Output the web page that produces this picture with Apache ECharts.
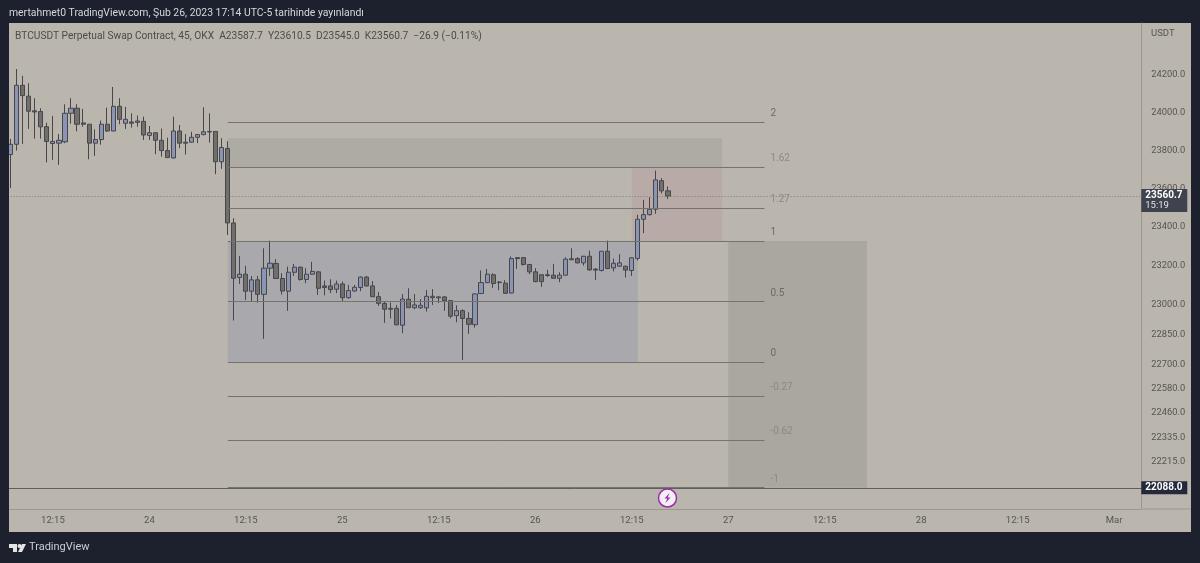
<!DOCTYPE html>
<html>
<head>
<meta charset="utf-8">
<title>BTCUSDT 45</title>
<style>
html, body { margin: 0; padding: 0; background: #1c212d; }
#chart { width: 1200px; height: 563px; }
</style>
<script src="https://cdn.jsdelivr.net/npm/echarts@6/dist/echarts.min.js"></script>
</head>
<body>
<div id="chart"></div>
<script>
// --- data --------------------------------------------------------------
var opens = [23778,23832,24145,24087,24009,24005,23925,23836,23838,23845,
	23996,24023,23945,23938,23838,23857,23938,23902,24033,23943,
	23950,23948,23953,23879,23893,23853,23799,23760,23902,23843,
	23843,23869,23883,23897,23900,23740,23810,23421,23140,23157,
	23070,23128,23054,23188,23212,23135,23070,23167,23193,23130,
	23157,23169,23097,23097,23080,23107,23037,23071,23089,23142,
	23097,23042,23008,22983,22983,22897,23029,22986,22986,22985,
	23037,23036,23041,23022,22946,22971,22931,22900,23058,23114,
	23154,23117,23111,23061,23242,23242,23207,23169,23154,23154,
	23152,23136,23152,23236,23237,23215,23249,23183,23176,23275,
	23189,23198,23198,23176,23238,23440,23464,23492,23641,23587.7];
var closes = [23832,24145,24090,24007,24003,23924,23847,23847,23853,23996,
	24023,23938,23938,23838,23857,23938,23902,24033,23964,23964,
	23943,23955,23881,23893,23853,23799,23762,23902,23838,23838,
	23869,23883,23898,23900,23740,23815,23421,23136,23157,23070,
	23128,23054,23188,23213,23135,23071,23167,23193,23130,23157,
	23171,23085,23089,23078,23107,23037,23073,23090,23142,23097,
	23042,23008,22978,22978,22899,23030,22986,23000,22998,23044,
	23044,23041,23022,22943,22971,22931,22902,23056,23114,23157,
	23109,23114,23059,23237,23237,23207,23169,23119,23119,23150,
	23136,23152,23234,23231,23215,23249,23179,23178,23275,23186,
	23213,23215,23178,23241,23440,23464,23492,23645,23588,23560.7];
var lows = [23602,23799,23834,23913,23862,23862,23737,23750,23724,23838,
	23941,23900,23925,23753,23771,23830,23898,23902,23938,23913,
	23920,23925,23855,23855,23780,23767,23760,23757,23811,23778,
	23841,23838,23879,23841,23675,23703,23359,22921,23107,23025,
	23020,23012,22828,23148,23133,23053,22970,23148,23124,23111,
	23155,23051,23049,23060,23060,23020,23032,23068,23070,23094,
	23040,22995,22909,22931,22897,22857,22986,22978,22980,22966,
	23000,23010,22970,22932,22912,22722,22853,22885,23056,23111,
	23087,23075,23059,23058,23184,23201,23157,23116,23092,23143,
	23135,23116,23150,23231,23213,23201,23174,23128,23171,23183,
	23171,23196,23140,23148,23227,23368,23459,23468,23574,23545];
var highs = [23860,24232,24196,24156,24076,24023,23946,23982,23886,24044,
	24076,24044,24019,23939,23911,23957,24026,24136,24076,24030,
	23996,23984,23978,23929,23895,23915,23867,23978,23934,23886,
	23898,23886,24028,23996,23900,23864,23848,23445,23251,23200,
	23148,23148,23290,23330,23234,23162,23196,23210,23196,23188,
	23220,23171,23124,23131,23124,23119,23102,23102,23145,23148,
	23122,23066,23017,23013,23000,23056,23085,23056,23030,23076,
	23081,23046,23046,23025,22998,22978,22963,23059,23176,23184,
	23162,23122,23126,23248,23244,23244,23208,23188,23157,23179,
	23210,23167,23244,23290,23244,23251,23278,23188,23276,23330,
	23237,23260,23200,23244,23463,23541,23555,23694,23654,23610.5];

var priceTicks = [24200,24000,23800,23600,23400,23200,23000,22850,22700,22580,22460,22335,22215];
var xTickIndex = [7,23,39,55,71,87,103,119,135,151,167,183];
var xTickLabels = ['12:15','24','12:15','25','12:15','26','12:15','27','12:15','28','12:15','Mar'];

var fibRatios = ['2','1.62','1.27','1','0.5','0','-0.27','-0.62','-1'];
var fibPrices = [23950,23713,23499,23328,23020,22712,22542,22324,22090];

var lastPrice = 23560.7;
var lastCountdown = '15:19';
var lineOrderPrice = 22088;

// --- page colours -------------------------------------------------------
var darkBg = '#1c212d';
var panelBg = '#bab6ae';
var axisCol = '#9b9890';
var textCol = '#55544f';
var uiFont = 'Roboto';

var categories = [];
for (var i = 0; i < 188; i++) { categories.push(String(i)); }

var candles = [];
for (var c = 0; c < opens.length; c++) {
	candles.push([opens[c], closes[c], lows[c], highs[c]]);
}

// fib level lines, the strong levels have a darker label
var fibLines = [];
for (var f = 0; f < fibRatios.length; f++) {
	var strong = ['2','1','0.5','0'].indexOf(fibRatios[f]) >= 0;
	fibLines.push([
		{
			coord: [36, fibPrices[f]],
			lineStyle: { color: '#75736e', type: 'solid', width: strong ? 1.2 : 1 },
			label: {
				show: true,
				position: 'end',
				distance: 6,
				formatter: fibRatios[f] + '\n ',
				lineHeight: 16,
				fontFamily: uiFont,
				fontSize: 10,
				color: strong ? '#6c6a66' : '#8c8983'
			}
		},
		{ coord: [125, fibPrices[f]] }
	]);
}

var eChart = echarts.init(document.getElementById('chart'));

var eChartOption = {
	animation: false,
	backgroundColor: darkBg,
	textStyle: { fontFamily: uiFont },
	grid: { left: 7.7, top: 23, width: 1133.6, height: 486 },
	xAxis: {
		type: 'category',
		data: categories,
		boundaryGap: true,
		axisLine: { show: true, lineStyle: { color: axisCol, width: 1 } },
		axisTick: { show: false },
		splitLine: { show: false },
		axisLabel: {
			margin: 7,
			fontSize: 9.5,
			color: textCol,
			interval: function (idx) { return xTickIndex.indexOf(idx) >= 0; },
			formatter: function (val, idx) { return xTickLabels[xTickIndex.indexOf(idx)]; }
		}
	},
	yAxis: {
		type: 'log',
		position: 'right',
		min: 21985,
		max: 24480,
		axisLine: { show: true, lineStyle: { color: axisCol, width: 1 } },
		axisTick: { show: false },
		splitLine: { show: false },
		axisLabel: {
			margin: 10,
			fontSize: 9.3,
			color: textCol,
			customValues: priceTicks,
			formatter: function (val) { return Number(val).toFixed(1); }
		}
	},
	series: [
		{
			name: 'zones',
			type: 'line',
			z: 1,
			data: [],
			silent: true,
			markArea: {
				silent: true,
				data: [
					[{ coord: [36, 23865], itemStyle: { color: '#aeaba5' } }, { coord: [118, 23713] }],
					[{ coord: [103, 23713], itemStyle: { color: '#b8aaa6' } }, { coord: [118, 23328] }],
					[{ coord: [36, 23328], itemStyle: { color: '#a9a8ac' } }, { coord: [104, 22712] }],
					[{ coord: [119, 23328], itemStyle: { color: '#aaa79f' } }, { coord: [142, 22088] }]
				]
			}
		},
		{
			name: 'fib',
			type: 'line',
			z: 2,
			data: [],
			silent: true,
			markLine: {
				silent: true,
				symbol: 'none',
				data: fibLines
			}
		},
		{
			name: 'BTCUSDT',
			type: 'candlestick',
			z: 3,
			barWidth: 4.6,
			data: candles,
			itemStyle: {
				color: '#8a94b3',
				color0: '#706f6c',
				borderColor: '#47474b',
				borderColor0: '#47474b',
				borderWidth: 1
			}
		},
		{
			name: 'prices',
			type: 'line',
			z: 5,
			data: [],
			silent: true,
			markLine: {
				silent: true,
				symbol: 'none',
				label: { show: false },
				data: [
					{ yAxis: lastPrice, lineStyle: { color: '#7d7b76', type: [1, 2], width: 1 } },
					{ yAxis: lineOrderPrice, lineStyle: { color: '#5f5e5a', type: 'solid', width: 1 } }
				]
			},
			markPoint: {
				silent: true,
				symbol: 'rect',
				data: [
					{
						coord: [187, lastPrice],
						symbolSize: [46, 23],
						symbolOffset: [26, 4.5],
						itemStyle: { color: '#3f424f' },
						label: {
							show: true,
							position: 'insideLeft',
							distance: 4,
							lineHeight: 11,
							fontSize: 10,
							fontWeight: 'bold',
							color: '#ffffff',
							formatter: lastPrice.toFixed(1) + '\n{s|' + lastCountdown + '}',
							rich: { s: { fontSize: 9.5, fontWeight: 'normal', color: '#e4e4e6', lineHeight: 11 } }
						}
					},
					{
						coord: [187, lineOrderPrice],
						symbolSize: [46, 13],
						symbolOffset: [26, 0],
						itemStyle: { color: '#23283a' },
						label: {
							show: true,
							position: 'insideLeft',
							distance: 4,
							fontSize: 10,
							fontWeight: 'bold',
							color: '#ffffff',
							formatter: lineOrderPrice.toFixed(1)
						}
					}
				]
			}
		}
	],
	graphic: [
		// chart panel behind everything
		{ type: 'rect', z: -1, silent: true, shape: { x: 9, y: 23, width: 1182, height: 509 }, style: { fill: panelBg } },
		// left frame, hides what sticks out past the panel
		{ type: 'rect', z: 10, silent: true, shape: { x: 0, y: 23, width: 9, height: 509 }, style: { fill: darkBg } },
		{ type: 'line', z: 1, silent: true, shape: { x1: 1141, y1: 509, x2: 1191, y2: 509 }, style: { stroke: axisCol, lineWidth: 1 } },
		{ type: 'text', z: 10, silent: true, x: 9, y: 8, style: { text: 'mertahmet0 TradingView.com, Şub 26, 2023 17:14 UTC-5 tarihinde yayınlandı', fill: '#d6d8dc', font: '10.4px ' + uiFont } },
		{ type: 'text', z: 10, silent: true, x: 15, y: 31, style: { text: 'BTCUSDT Perpetual Swap Contract, 45, OKX  A23587.7  Y23610.5  D23545.0  K23560.7  −26.9 (−0.11%)', fill: '#4c4b48', font: '10.2px ' + uiFont } },
		{ type: 'text', z: 10, silent: true, x: 1151, y: 29, style: { text: 'USDT', fill: textCol, font: '9.5px ' + uiFont } },
		// TradingView logo
		{ type: 'polygon', z: 10, silent: true, shape: { points: [[9,544],[17,544],[17,552],[13,552],[13,548],[9,548]] }, style: { fill: '#e4e4e4' } },
		{ type: 'circle', z: 10, silent: true, shape: { cx: 19.5, cy: 546, r: 2 }, style: { fill: '#e4e4e4' } },
		{ type: 'polygon', z: 10, silent: true, shape: { points: [[22,544],[26,544],[22,552],[18,552]] }, style: { fill: '#e4e4e4' } },
		{ type: 'text', z: 10, silent: true, x: 29, y: 542, style: { text: 'TradingView', fill: '#c9ccd3', font: '11px ' + uiFont } },
		// lightning badge
		{ type: 'circle', z: 10, silent: true, shape: { cx: 667.5, cy: 498, r: 9 }, style: { fill: '#f4eff5', stroke: '#9c2bb0', lineWidth: 1.5 } },
		{ type: 'polygon', z: 11, silent: true, shape: { points: [[669.5,493],[664.5,498.5],[667.3,498.5],[665.5,503],[670.5,497.5],[667.7,497.5]] }, style: { fill: '#9c2bb0' } }
	]
};

eChart.setOption(eChartOption);
</script>
</body>
</html>
